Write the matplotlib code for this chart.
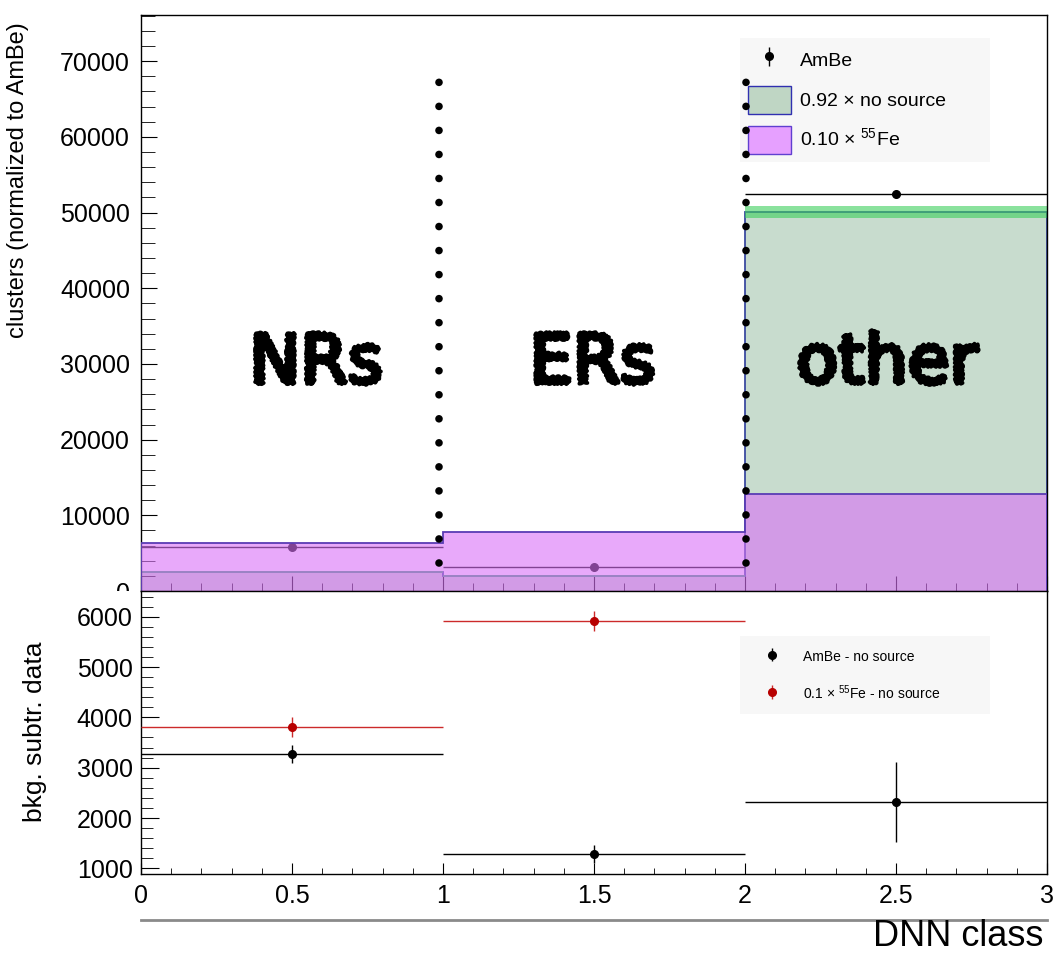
import numpy as np
import matplotlib
matplotlib.use("Agg")
import matplotlib.pyplot as plt
from matplotlib.patches import Patch, Rectangle
from matplotlib.lines import Line2D
from matplotlib.ticker import MultipleLocator
from matplotlib import patheffects

plt.rcParams['font.family'] = ['Liberation Sans', 'DejaVu Sans']
plt.rcParams['mathtext.fontset'] = 'custom'
plt.rcParams['mathtext.rm'] = 'Liberation Sans'

# DNN class bins
edges = np.array([0, 1, 2, 3])
centers = np.array([0.5, 1.5, 2.5])
half_width = np.array([0.5, 0.5, 0.5])
class_names = ['NRs', 'ERs', 'other']

# top pad: clusters per class
ambe = np.array([5810, 3170, 52470])
ambe_err = np.array([76, 56, 229])
nosource = np.array([2560, 1980, 50140])
nosource_err = np.array([150, 120, 790])
fe55 = np.array([6400, 7850, 12780])

# bottom pad: background subtracted
ambe_sub = np.array([3276, 1292, 2325])
ambe_sub_err = np.array([180, 180, 794])
fe_sub = np.array([3811, 5914])
fe_sub_err = np.array([200, 200])

divider_x = [0.987, 2.003]

col_green = '#c8dcce'
col_band = '#3ccf5c'
col_ns_line = '#3b4aa0'
col_fe = (217 / 255, 113 / 255, 247 / 255)
col_fe_line = '#5a3cb4'
col_red = '#b80000'


class Rough(patheffects.AbstractPathEffect):
    """stroke + fill the glyphs with a sketchy, chalk-like outline"""
    def __init__(self, lw=2.5):
        super().__init__()
        self.lw = lw

    def draw_path(self, renderer, gc, tpath, affine, rgbFace=None):
        gc0 = renderer.new_gc()
        gc0.copy_properties(gc)
        gc0.set_linewidth(self.lw)
        gc0.set_foreground('black')
        gc0.set_sketch_params(1.2, 5, 3)
        renderer.draw_path(gc0, tpath, affine, rgbFace)
        gc0.restore()


fig = plt.figure(figsize=(10.53, 9.57), dpi=100)
ax1 = fig.add_axes([0.1339, 0.3824, 0.8604, 0.6019])
ax2 = fig.add_axes([0.1339, 0.0867, 0.8604, 0.2957])

# ---- top pad
ax1.stairs(nosource, edges, fill=True, color=col_green, zorder=1)
ax1.stairs(nosource, edges, color=col_ns_line, lw=1.3, zorder=2)
ax1.stairs(nosource + nosource_err, edges, baseline=nosource - nosource_err,
           fill=True, color=col_band, alpha=0.6, lw=0, zorder=2.5)
ax1.errorbar(centers, ambe, xerr=half_width, yerr=ambe_err, fmt='o', color='k',
             ms=5.5, lw=1, capsize=0, zorder=3)
ax1.stairs(fe55, edges, fill=True, color=col_fe, alpha=0.6, lw=0, zorder=5)
ax1.stairs(fe55, edges, color=col_fe_line, lw=1.3, zorder=6)

for xd in divider_x:
    ax1.plot([xd, xd], [3660, 67240], color='k', lw=5.5,
             ls=(0, (0.001, 3.145)), dash_capstyle='round', zorder=20)

for xc, name in zip([0.58, 1.495, 2.47], class_names):
    ax1.text(xc, 30000, name, ha='center', va='center', fontsize=49,
             family='DejaVu Sans', zorder=15, path_effects=[Rough(2.8)])

ax1.set_xlim(0, 3)
ax1.set_ylim(0, 76100)
ax1.xaxis.set_major_locator(MultipleLocator(0.5))
ax1.xaxis.set_minor_locator(MultipleLocator(0.1))
ax1.yaxis.set_major_locator(MultipleLocator(10000))
ax1.yaxis.set_minor_locator(MultipleLocator(2000))
ax1.tick_params(axis='x', which='major', direction='in', length=11, labelbottom=False)
ax1.tick_params(axis='x', which='minor', direction='in', length=6)
ax1.tick_params(axis='y', which='major', direction='in', length=11.5, labelsize=18, pad=8)
ax1.tick_params(axis='y', which='minor', direction='in', length=10)
ax1.set_ylabel('clusters (normalized to AmBe)', fontsize=17)
ax1.yaxis.set_label_coords(-0.1236, 0.714)

# legend entries carrying only a vertical error bar
amb_key = ax1.errorbar([np.nan], [np.nan], yerr=[1], fmt='o', color='k', ms=5.5, lw=1)
leg_handles = [
    amb_key,
    Patch(facecolor='#bfd6c4', edgecolor='#3030b0', lw=1),
    Patch(facecolor='#e6a0ff', edgecolor='#6040d0', lw=1),
]
leg1 = ax1.legend(leg_handles, ['AmBe', '0.92 × no source', r'0.10 × $^{55}$Fe'],
                  loc='upper left', bbox_to_anchor=(0.661, 0.753, 0.276, 0.207),
                  mode='expand', borderaxespad=0, fontsize=14, frameon=True,
                  facecolor='#f7f7f7', edgecolor='none', framealpha=1,
                  fancybox=False, handlelength=2.2, handleheight=1.84,
                  handletextpad=0.46, labelspacing=0.6, borderpad=0.42)
leg1.set_zorder(12)

# ---- bottom pad
ax2.errorbar(centers, ambe_sub, xerr=half_width, yerr=ambe_sub_err, fmt='o',
             color='k', ms=5.5, lw=1, capsize=0, zorder=3)
ax2.errorbar(centers[:2], fe_sub, xerr=half_width[:2], yerr=fe_sub_err, fmt='o',
             color=col_red, ecolor='#cc2a2a', ms=5.5, lw=1, capsize=0, zorder=3)
sub_key = ax2.errorbar([np.nan], [np.nan], yerr=[1], fmt='o', color='k', ms=5.5, lw=1)
fe_key = ax2.errorbar([np.nan], [np.nan], yerr=[1], fmt='o', color=col_red,
                      ecolor='#cc2a2a', ms=5.5, lw=1)
ax2.set_xlim(0, 3)
ax2.set_ylim(887, 6510)
ax2.xaxis.set_major_locator(MultipleLocator(0.5))
ax2.xaxis.set_minor_locator(MultipleLocator(0.1))
ax2.yaxis.set_major_locator(MultipleLocator(1000))
ax2.yaxis.set_minor_locator(MultipleLocator(200))
ax2.set_xticks([0, 0.5, 1, 1.5, 2, 2.5, 3])
ax2.set_xticklabels(['0', '0.5', '1', '1.5', '2', '2.5', '3'])
ax2.tick_params(axis='x', which='major', direction='in', length=8, labelsize=18, pad=7)
ax2.tick_params(axis='x', which='minor', direction='in', length=4.5)
ax2.tick_params(axis='y', which='major', direction='in', length=13, labelsize=18, pad=6)
ax2.tick_params(axis='y', which='minor', direction='in', length=8.5)
ax2.set_ylabel('bkg. subtr. data', fontsize=19)
ax2.yaxis.set_label_coords(-0.104, 0.502)

leg2 = ax2.legend([sub_key, fe_key], ['AmBe - no source', r'0.1 × $^{55}$Fe - no source'],
                  loc='upper left', bbox_to_anchor=(0.661, 0.572, 0.276, 0.269),
                  mode='expand', borderaxespad=0, fontsize=10, frameon=True,
                  facecolor='#f7f7f7', edgecolor='none', framealpha=1,
                  fancybox=False, handlelength=2.9, handleheight=1.5,
                  handletextpad=0.8, labelspacing=1.3, borderpad=0.86)

# hide the lower half of the top pad's "0" label under the bottom pad
ax2.add_patch(Rectangle((-0.16, 0.55), 0.155, 0.45, transform=ax2.transAxes,
                        facecolor='white', edgecolor='none', clip_on=False, zorder=1))

for ax in (ax1, ax2):
    for s in ax.spines.values():
        s.set_linewidth(1.0)

# x axis title below the pads
fig.add_artist(Line2D([0.1339, 0.9943], [0.0387, 0.0387], color='#8a8a8a', lw=2))
fig.text(0.9905, 0.003, 'DNN class', ha='right', va='bottom', fontsize=26)

fig.savefig('out.png', dpi=100)
